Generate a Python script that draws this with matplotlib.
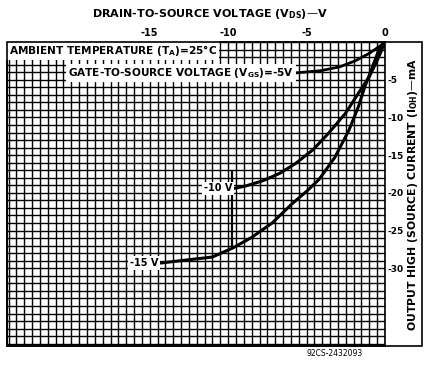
import numpy as np
import matplotlib
matplotlib.use("Agg")
import matplotlib.pyplot as plt
from matplotlib.patches import Rectangle

plt.rcParams['font.family'] = ['DejaVu Sans']
plt.rcParams['font.weight'] = 'bold'
plt.rcParams['mathtext.default'] = 'bf'

# output high (source) current vs drain-to-source voltage, T_A = 25 C
vds_5 = [-5.7, -4.1, -2.9, -1.9, -1.0, -0.3, 0.0]
ioh_5 = [-4.1, -3.8, -3.3, -2.5, -1.5, -0.5, 0.0]

vds_10 = [-9.6, -8.9, -7.8, -6.7, -5.7, -4.6, -3.6, -2.5, -1.7, -1.0, -0.4, 0.0]
ioh_10 = [-19.4, -19.1, -18.4, -17.4, -16.1, -14.3, -12.1, -9.4, -6.8, -4.6, -2.0, 0.0]

vds_15 = [-14.3, -11.0, -9.7, -8.5, -7.2, -5.9, -5.0, -4.2, -3.2, -2.3, -1.7, -1.3, -0.8, -0.4, 0.0]
ioh_15 = [-29.3, -28.5, -27.3, -25.9, -24.0, -21.4, -19.8, -18.2, -15.3, -11.7, -8.6, -6.0, -3.3, -1.1, 0.0]

x_ticks = [-15, -10, -5, 0]
x_ticklabels = ['-15', '-10', '-5', '0']
y_ticks = [-5, -10, -15, -20, -25, -30]
y_ticklabels = ['-5', '-10', '-15', '-20', '-25', '-30']

W, H = 425, 368
fig = plt.figure(figsize=(W / 100, H / 100), dpi=100)

def fx(px):
    return px / W

def fy(py):
    return 1 - py / H

ax = fig.add_axes([fx(7), fy(346), fx(385) - fx(7), fy(42) - fy(346)])
ax.set_xlim(-24.1, 0)
ax.set_ylim(-40.3, 0)

# dense graph-paper grid
for v in np.arange(-24, 0.01, 0.5):
    ax.axvline(v, color='black', lw=1.0, zorder=1)
for v in np.arange(-40, 0.01, 1.0):
    ax.axhline(v, color='black', lw=1.0, zorder=1)
ax.vlines(-9.75, -27.5, -17, color='black', lw=1.6, zorder=2)

for s in ax.spines.values():
    s.set_linewidth(1.2)

ax.xaxis.tick_top()
ax.set_xticks(x_ticks)
ax.set_xticklabels(x_ticklabels, fontsize=7)
ax.tick_params(axis='x', length=0, pad=3)
ax.yaxis.tick_right()
ax.set_yticks(y_ticks)
ax.set_yticklabels(y_ticklabels, fontsize=6.5)
ax.tick_params(axis='y', length=0, pad=2)

ax.plot(vds_5, ioh_5, color='black', lw=2.0, zorder=4, solid_capstyle='round')
ax.plot(vds_10, ioh_10, color='black', lw=2.2, zorder=4, solid_capstyle='round')
ax.plot(vds_15, ioh_15, color='black', lw=2.2, zorder=4, solid_capstyle='round')

box = dict(facecolor='white', edgecolor='none', pad=1.2)
ax.text(vds_10[0] - 0.15, ioh_10[0], '-10 V', ha='right', va='center',
        fontsize=7, bbox=box, zorder=10)
ax.text(vds_15[0] - 0.15, ioh_15[0], '-15 V', ha='right', va='center',
        fontsize=7, bbox=box, zorder=10)
ax.text(vds_5[0] - 0.1, ioh_5[0], 'GATE-TO-SOURCE VOLTAGE (V$_{GS}$)=-5V',
        ha='right', va='center', fontsize=7.6, bbox=box, zorder=10)
ax.text(-24.0, -0.15, 'AMBIENT TEMPERATURE (T$_A$)=25°C', ha='left', va='top',
        fontsize=7.6, bbox=dict(facecolor='white', edgecolor='none', pad=1.6),
        zorder=10)

# outer frame around graph and current-axis panel
fig.patches.append(Rectangle((fx(7), fy(346)), fx(422) - fx(7), fy(42) - fy(346),
                             transform=fig.transFigure, fill=False,
                             edgecolor='black', lw=1.2))

fig.text(fx(210), fy(14), 'DRAIN-TO-SOURCE VOLTAGE (V$_{DS}$)—V',
         ha='center', va='center', fontsize=8)
fig.text(fx(413), fy(195), 'OUTPUT HIGH (SOURCE) CURRENT (I$_{OH}$)—mA',
         ha='center', va='center', rotation=90, fontsize=7.8)
fig.text(fx(335), fy(353), '92CS-2432093', ha='center', va='center',
         fontsize=5.5, weight='normal')

fig.savefig('out.png', dpi=100)
